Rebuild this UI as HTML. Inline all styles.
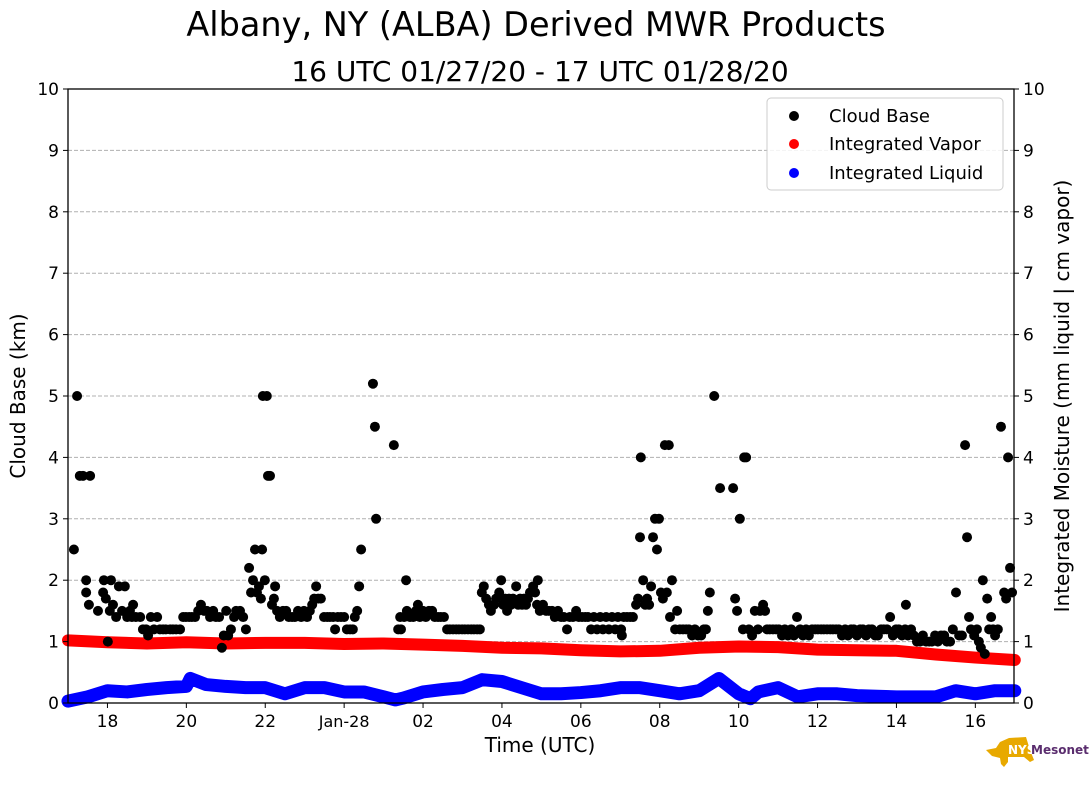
<!DOCTYPE html>
<html><head><meta charset="utf-8"><style>
body{margin:0;background:#fff;}
svg{display:block;font-family:"DejaVu Sans","Liberation Sans",sans-serif;}
</style></head><body>
<svg id="chart" width="1089" height="804" viewBox="0 0 1089 804">
<text x="536" y="36" font-size="33.5" text-anchor="middle">Albany, NY (ALBA) Derived MWR Products</text>
<text x="540" y="81" font-size="28" text-anchor="middle">16 UTC 01/27/20 - 17 UTC 01/28/20</text>
<g id="grid"></g>
<g id="series"></g>
<rect x="68" y="89" width="946" height="614" fill="none" stroke="#000" stroke-width="1.3"/>
<g id="axes" font-size="17"></g>
<text transform="translate(25,396) rotate(-90)" font-size="20" text-anchor="middle">Cloud Base (km)</text>
<text transform="translate(1069,396) rotate(-90)" font-size="20" text-anchor="middle">Integrated Moisture (mm liquid | cm vapor)</text>
<text x="540" y="752" font-size="20" text-anchor="middle">Time (UTC)</text>
<g>
<rect x="767" y="98" width="236" height="92" rx="4" fill="#fff" fill-opacity="0.85" stroke="#ccc"/>
<circle cx="794" cy="116" r="5" fill="#000"/>
<text x="829" y="122" font-size="18">Cloud Base</text>
<circle cx="794" cy="144" r="5" fill="#f00"/>
<text x="829" y="150" font-size="18">Integrated Vapor</text>
<circle cx="794" cy="173" r="5" fill="#00f"/>
<text x="829" y="179" font-size="18">Integrated Liquid</text>
</g>
<g>
<path d="M986,750 L996,748 L1000,742 L1009,738 L1026,737 L1030,750 L1034,760 L1030,762 L1024,757 L1008,757 L1008,762 L1004,767 L1001,764 L1000,758 L992,756 Z" fill="#e8a900"/>
<text x="1008" y="754" font-size="12" font-weight="bold" fill="#fff">NYS</text>
<text x="1031" y="754" font-size="12" font-weight="bold" fill="#5a2d6e">Mesonet</text>
</g>
</svg>
<script>
// hours since 17 UTC 01/27/20
const cbTime=[0.15,0.23,0.30,0.38,0.56,0.46,0.46,0.53,0.76,0.89,0.91,0.96,1.01,1.09,1.06,1.14,1.22,1.29,1.37,1.44,1.50,1.57,1.65,1.62,1.72,1.83,1.90,1.98,2.03,2.10,2.18,2.26,2.33,2.41,2.48,2.59,2.66,2.74,2.84,2.92,2.99,3.07,3.14,3.22,3.30,3.37,3.45,3.52,3.60,3.68,3.75,3.83,3.90,3.95,4.01,4.06,4.13,4.21,4.26,4.36,4.44,4.51,4.59,4.64,4.69,4.74,4.79,4.84,4.89,4.92,4.94,4.99,5.04,5.07,5.12,5.17,5.25,5.22,5.30,5.37,5.45,5.53,5.60,5.68,5.75,5.83,5.91,5.98,6.06,6.13,6.19,6.24,6.29,6.34,6.41,6.49,6.57,6.64,6.72,6.77,6.84,6.92,7.00,7.07,7.15,7.22,7.27,7.33,7.38,7.43,7.73,7.78,7.81,8.26,8.37,8.44,8.42,8.52,8.57,8.59,8.67,8.75,8.82,8.87,8.92,9.00,9.07,9.15,9.23,9.30,9.38,9.45,9.53,9.61,9.68,9.76,9.84,9.91,9.99,10.06,10.14,10.22,10.29,10.37,10.44,10.49,10.54,10.60,10.67,10.72,10.80,10.85,10.93,10.98,11.03,11.08,11.13,11.18,11.23,11.28,11.36,11.41,11.46,11.51,11.56,11.61,11.66,11.71,11.79,11.84,11.89,11.91,11.96,12.04,12.12,12.19,12.27,12.34,12.42,12.50,12.57,12.65,12.72,12.80,12.88,12.95,13.03,13.11,13.18,13.26,13.33,13.41,13.49,13.56,13.64,13.71,13.79,13.87,13.94,14.02,14.04,14.09,14.17,14.25,14.32,14.40,14.45,14.50,14.52,14.58,14.63,14.68,14.73,14.78,14.83,14.88,14.93,14.98,15.03,15.08,15.13,15.18,15.23,15.26,15.31,15.39,15.44,15.51,15.59,15.67,15.74,15.82,15.89,15.97,16.05,16.12,16.17,16.22,16.27,16.38,16.53,16.86,16.91,16.96,17.03,17.11,17.14,17.19,17.26,17.34,17.41,17.49,17.54,17.62,17.67,17.72,17.79,17.87,17.95,18.02,18.10,18.17,18.25,18.33,18.40,18.48,18.56,18.63,18.71,18.78,18.86,18.94,19.01,19.09,19.16,19.24,19.32,19.39,19.47,19.54,19.62,19.70,19.77,19.85,19.92,20.00,20.08,20.15,20.23,20.30,20.38,20.46,20.53,20.61,20.68,20.76,20.84,20.91,20.99,21.06,21.14,21.22,21.24,21.29,21.37,21.44,21.52,21.60,21.67,21.75,21.83,21.90,21.98,22.05,22.13,22.21,22.28,22.36,22.43,22.51,22.59,22.66,22.74,22.79,22.84,22.89,22.97,23.04,23.09,23.14,23.19,23.24,23.30,23.35,23.40,23.45,23.50,23.57,23.65,23.73,23.78,23.83,23.88,23.93];
const cbValue=[2.5,5.0,3.7,3.7,3.7,2.0,1.8,1.6,1.5,1.8,2.0,1.7,1.0,2.0,1.5,1.6,1.4,1.9,1.5,1.9,1.4,1.5,1.6,1.4,1.4,1.4,1.2,1.2,1.1,1.4,1.2,1.4,1.2,1.2,1.2,1.2,1.2,1.2,1.2,1.4,1.4,1.4,1.4,1.4,1.5,1.6,1.5,1.5,1.4,1.5,1.4,1.4,0.9,1.1,1.5,1.1,1.2,1.4,1.5,1.5,1.4,1.2,2.2,1.8,2.0,2.5,1.8,1.9,1.7,2.5,5.0,2.0,5.0,3.7,3.7,1.6,1.9,1.7,1.5,1.4,1.5,1.5,1.4,1.4,1.4,1.5,1.4,1.5,1.4,1.5,1.6,1.7,1.9,1.7,1.7,1.4,1.4,1.4,1.4,1.2,1.4,1.4,1.4,1.2,1.2,1.2,1.4,1.5,1.9,2.5,5.2,4.5,3.0,4.2,1.2,1.2,1.4,1.4,2.0,1.5,1.4,1.4,1.5,1.6,1.4,1.5,1.4,1.5,1.5,1.4,1.4,1.4,1.4,1.2,1.2,1.2,1.2,1.2,1.2,1.2,1.2,1.2,1.2,1.2,1.2,1.8,1.9,1.7,1.6,1.5,1.6,1.7,1.8,2.0,1.6,1.7,1.5,1.7,1.6,1.7,1.9,1.6,1.7,1.6,1.7,1.6,1.7,1.8,1.9,1.8,1.6,2.0,1.5,1.6,1.5,1.5,1.5,1.4,1.5,1.4,1.4,1.2,1.4,1.4,1.5,1.4,1.4,1.4,1.4,1.2,1.4,1.2,1.4,1.2,1.4,1.2,1.4,1.2,1.4,1.2,1.1,1.4,1.4,1.4,1.4,1.6,1.7,2.7,4.0,2.0,1.6,1.7,1.6,1.9,2.7,3.0,2.5,3.0,1.8,1.7,4.2,1.8,4.2,1.4,2.0,1.2,1.5,1.2,1.2,1.2,1.2,1.1,1.2,1.1,1.1,1.2,1.2,1.5,1.8,5.0,3.5,3.5,1.7,1.5,3.0,1.2,4.0,4.0,1.2,1.1,1.5,1.2,1.5,1.6,1.5,1.2,1.2,1.2,1.2,1.2,1.1,1.2,1.1,1.2,1.1,1.4,1.2,1.1,1.2,1.1,1.2,1.2,1.2,1.2,1.2,1.2,1.2,1.2,1.2,1.2,1.1,1.2,1.1,1.2,1.2,1.1,1.2,1.2,1.1,1.2,1.2,1.1,1.1,1.2,1.2,1.2,1.4,1.1,1.2,1.2,1.1,1.2,1.6,1.1,1.2,1.1,1.0,1.0,1.1,1.0,1.0,1.0,1.1,1.0,1.1,1.1,1.0,1.0,1.2,1.8,1.1,1.1,4.2,2.7,1.4,1.2,1.1,1.2,1.0,0.9,2.0,0.8,1.7,1.2,1.4,1.2,1.1,1.2,4.5,1.8,1.7,4.0,2.2,1.8];
const vaporTime=[0,1,2,3,4,5,6,7,8,9,10,11,12,13,14,15,16,17,18,19,20,21,22,23,24];
const vaporValue=[1.02,0.99,0.97,0.99,0.97,0.98,0.98,0.96,0.97,0.95,0.93,0.90,0.89,0.86,0.84,0.85,0.90,0.92,0.91,0.87,0.86,0.85,0.79,0.74,0.70];
const liqTime=[0,0.5,1,1.5,2,2.5,3,3.1,3.5,4,4.5,5,5.5,6,6.5,7,7.5,8,8.3,8.5,9,9.5,10,10.5,11,11.5,12,12.5,13,13.5,14,14.5,15,15.5,16,16.5,17,17.3,17.5,18,18.5,19,19.5,20,21,22,22.5,23,23.5,24];
const liqValue=[0.03,0.10,0.20,0.18,0.22,0.25,0.27,0.40,0.30,0.27,0.25,0.25,0.15,0.25,0.25,0.18,0.18,0.10,0.05,0.08,0.18,0.22,0.25,0.38,0.35,0.25,0.15,0.15,0.17,0.20,0.25,0.25,0.20,0.15,0.20,0.40,0.15,0.07,0.18,0.25,0.10,0.15,0.15,0.12,0.10,0.10,0.20,0.15,0.20,0.20];
const yTicks=[0,1,2,3,4,5,6,7,8,9,10];
const xTickHours=[1,3,5,7,9,11,13,15,17,19,21,23];
const xTickLabels=["18","20","22","Jan-28","02","04","06","08","10","12","14","16"];

const NS="http://www.w3.org/2000/svg";
const X0=68,X1=1014,Y0=703,Y1=89,TMAX=23.98;
function sx(t){return X0+(X1-X0)*t/TMAX;}
function sy(v){return Y0-(Y0-Y1)*v/10;}
function mk(tag,attrs,parent){const e=document.createElementNS(NS,tag);for(const k in attrs)e.setAttribute(k,attrs[k]);parent.appendChild(e);return e;}
const grid=document.getElementById('grid'),series=document.getElementById('series'),axes=document.getElementById('axes');
yTicks.forEach(v=>{
  if(v>0&&v<10){const l=mk('line',{x1:X0,x2:X1,y1:sy(v),y2:sy(v),stroke:'#b0b0b0','stroke-dasharray':'4,2','stroke-width':1},grid);
  
  }
  const t1=mk('line',{x1:X0-5,x2:X0,y1:sy(v),y2:sy(v),stroke:'#000'},axes);
  
  
  const t2=mk('line',{x1:X1,x2:X1+5,y1:sy(v),y2:sy(v),stroke:'#000'},axes);
  
  
  const a=mk('text',{x:X0-9,y:sy(v)+6,'text-anchor':'end'},axes);a.textContent=v;
  
  
  const b=mk('text',{x:X1+9,y:sy(v)+6},axes);b.textContent=v;
  
  
});
xTickHours.forEach((h,i)=>{
  const t=mk('line',{x1:sx(h),x2:sx(h),y1:Y0,y2:Y0+5,stroke:'#000'},axes);
  
  
  const l=mk('text',{x:sx(h),y:Y0+24,'text-anchor':'middle','font-size':xTickLabels[i].length>3?16:17},axes);l.textContent=xTickLabels[i];
  
  
});
function line(ts,vs,color,name,w){
  const p=mk('polyline',{points:ts.map((t,i)=>sx(t)+','+sy(vs[i])).join(' '),fill:'none',stroke:color,'stroke-width':w,'stroke-linecap':'round','stroke-linejoin':'round'},series);
  
  
}
line(vaporTime,vaporValue,'#ff0000','integrated-vapor-series',12);
line(liqTime,liqValue,'#0000ff','integrated-liquid-series',13);
cbTime.forEach((t,i)=>{
  const c=mk('circle',{cx:sx(t),cy:sy(cbValue[i]),r:5,fill:'#000'},series);
  
  
});
</script>
</body></html>
